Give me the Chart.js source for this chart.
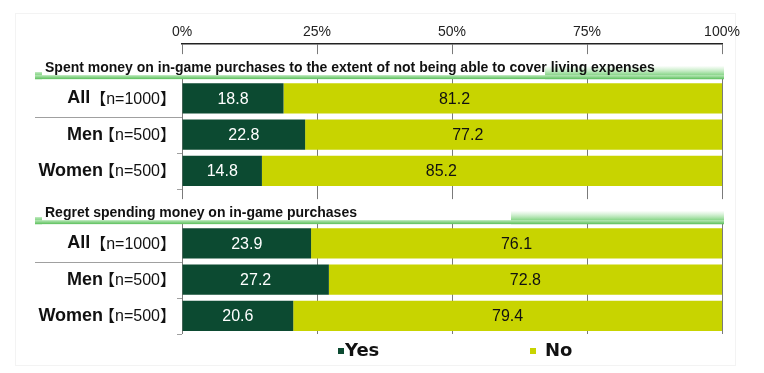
<!DOCTYPE html>
<html>
<head>
<meta charset="utf-8">
<title>In-game purchases</title>
<script src="https://cdn.jsdelivr.net/npm/chart.js@4.4.1/dist/chart.umd.min.js"></script>
<style>
  html, body { margin: 0; padding: 0; background: #fff; }
  canvas { display: block; }
</style>
</head>
<body>
<canvas id="chart" width="764" height="373"></canvas>
<script>
/* global Chart */
(function () {
    'use strict';

    // ---------------------------------------------------------
    // Data
    // ---------------------------------------------------------
    var sectionTitles = [
        'Spent money on in-game purchases to the extent of not being able to cover living expenses',
        'Regret spending money on in-game purchases'
    ];
    var groups      = ['All', 'Men', 'Women'];
    var sampleSizes = ['【n=1000】', '【n=500】', '【n=500】'];
    var yesSpent    = [18.8, 22.8, 14.8];
    var noSpent     = [81.2, 77.2, 85.2];
    var yesRegret   = [23.9, 27.2, 20.6];
    var noRegret    = [76.1, 72.8, 79.4];
    var xTicks      = [0, 25, 50, 75, 100];
    var seriesNames = ['Yes', 'No'];

    // ---------------------------------------------------------
    // Styles
    // ---------------------------------------------------------
    var YES_COLOR  = '#0c4a31';
    var NO_COLOR   = '#c8d400';
    var GRID_COLOR = '#7a7a7a';
    var FONT       = '"Liberation Sans", Arial, sans-serif';
    var CJK_FONT   = '"Liberation Sans", "Noto Sans CJK JP", sans-serif';
    var noLabelPos = [0.39, 0.5];      // where the "No" value sits in its bar, per section
    var glowStart  = [545, 511];       // x where the header glow starts, per section
    var legendX    = [338, 530];

    // rows: header, All, Men, Women, header, All, Men, Women
    var rowKind = [], labels = [], yesData = [], noData = [];
    [[yesSpent, noSpent], [yesRegret, noRegret]].forEach(function (pair, s) {
        rowKind.push({ header: s });
        labels.push(sectionTitles[s]);
        yesData.push(null);
        noData.push(null);
        groups.forEach(function (g, j) {
            rowKind.push({ group: j, section: s });
            labels.push(g);
            yesData.push(pair[0][j]);
            noData.push(pair[1][j]);
        });
    });

    var decor = {
        id: 'decor',
        beforeDraw: function (chart) {
            var ctx = chart.ctx;
            ctx.save();
            ctx.fillStyle = '#fff';
            ctx.fillRect(0, 0, chart.width, chart.height);
            ctx.strokeStyle = '#f3f3f3';
            ctx.lineWidth = 1;
            ctx.strokeRect(15.5, 13.5, 720, 352);
            ctx.restore();
        },
        afterDatasetsDraw: function (chart) {
            var ctx  = chart.ctx;
            var area = chart.chartArea;
            var y    = chart.scales.y;
            ctx.save();

            // section headers
            rowKind.forEach(function (r, i) {
                if (r.header === undefined) return;
                var cy = y.getPixelForValue(i);
                var right = area.right + 2;
                ctx.fillStyle = '#fff';
                ctx.fillRect(33, cy - 8, right - 33, 24);

                var g = ctx.createLinearGradient(0, cy + 4, 0, cy + 17);
                g.addColorStop(0, 'rgba(150,220,150,0.05)');
                g.addColorStop(0.6, 'rgba(110,205,110,0.7)');
                g.addColorStop(1, 'rgba(70,185,70,1)');
                ctx.fillStyle = g;
                ctx.fillRect(glowStart[r.header], cy + 4, right - glowStart[r.header], 13);
                ctx.fillRect(35, cy + 10, 7, 7);

                var l = ctx.createLinearGradient(0, cy + 13, 0, cy + 17);
                l.addColorStop(0, '#b9e8b9');
                l.addColorStop(1, '#5cc05c');
                ctx.fillStyle = l;
                ctx.fillRect(35, cy + 13, right - 35, 4);

                ctx.fillStyle = '#111';
                ctx.font = 'bold 14px ' + FONT;
                ctx.textAlign = 'left';
                ctx.textBaseline = 'middle';
                ctx.fillText(sectionTitles[r.header], 45, cy + 6);
            });

            // values inside the bars
            ctx.font = '16px ' + FONT;
            ctx.textBaseline = 'middle';
            ctx.textAlign = 'center';
            chart.data.datasets.forEach(function (ds, d) {
                var meta = chart.getDatasetMeta(d);
                meta.data.forEach(function (bar, i) {
                    var v = ds.data[i];
                    if (v === null || v === undefined) return;
                    var lo = Math.min(bar.x, bar.base), hi = Math.max(bar.x, bar.base);
                    var frac = d === 0 ? 0.5 : noLabelPos[rowKind[i].section];
                    ctx.fillStyle = d === 0 ? '#fff' : '#111';
                    ctx.fillText(v.toFixed(1), lo + (hi - lo) * frac, bar.y + 1);
                });
            });
            ctx.restore();
        },
        afterDraw: function (chart) {
            var ctx  = chart.ctx;
            var area = chart.chartArea;
            var y    = chart.scales.y;
            var half = (y.getPixelForValue(1) - y.getPixelForValue(0)) / 2;
            ctx.save();

            rowKind.forEach(function (r, i) {
                if (r.group === undefined) return;
                var cy = y.getPixelForValue(i);
                var labelRight = area.left - 6;

                ctx.textBaseline = 'middle';
                ctx.textAlign = 'right';
                ctx.fillStyle = '#111';
                ctx.font = '16px ' + CJK_FONT;
                var w = ctx.measureText(sampleSizes[r.group]).width;
                ctx.fillText(sampleSizes[r.group], labelRight, cy + 1);
                ctx.font = 'bold 18px ' + FONT;
                ctx.fillText(groups[r.group], labelRight - w + (r.group === 0 ? 0 : 4), cy);

                // separators on the left
                var by = Math.round(cy + half) + 0.5;
                ctx.strokeStyle = '#a0a0a0';
                ctx.lineWidth = 1;
                ctx.beginPath();
                if (r.group === 0) {
                    ctx.moveTo(35, by);
                } else {
                    ctx.moveTo(area.left - 5, by);
                }
                ctx.lineTo(area.left, by);
                ctx.stroke();
            });

            // legend
            ctx.textAlign = 'left';
            ctx.textBaseline = 'middle';
            ctx.font = 'bold 18px "DejaVu Sans", ' + FONT;
            chart.data.datasets.forEach(function (ds, d) {
                var x = legendX[d];
                ctx.fillStyle = ds.backgroundColor;
                ctx.fillRect(x, 348, 6, 6);
                ctx.fillStyle = '#111';
                ctx.fillText(ds.label, x + (d === 0 ? 7 : 15), 351);
            });
            ctx.restore();
        }
    };

    new Chart(document.getElementById('chart'), {
        type: 'bar',
        data: {
            labels: labels,
            datasets: [
                {
                    label:           seriesNames[0],
                    data:            yesData,
                    backgroundColor: YES_COLOR,
                    borderWidth:     0,
                    barPercentage:   0.83,
                    categoryPercentage: 1,
                },
                {
                    label:           seriesNames[1],
                    data:            noData,
                    backgroundColor: NO_COLOR,
                    borderWidth:     0,
                    barPercentage:   0.83,
                    categoryPercentage: 1,
                },
            ],
        },
        options: {
            indexAxis:  'y',
            responsive: false,
            animation:  false,
            devicePixelRatio: 1,
            layout: { padding: { left: 182, right: 42, top: 0, bottom: 39 } },
            plugins: {
                legend:  { display: false },
                tooltip: { enabled: false },
            },
            scales: {
                x: {
                    position: 'top',
                    stacked:  true,
                    min: 0,
                    max: 100,
                    afterBuildTicks: function (scale) {
                        scale.ticks = xTicks.map(function (v) { return { value: v }; });
                    },
                    afterFit: function (scale) { scale.height = 44; },
                    ticks: {
                        padding: 3,
                        color:   '#222',
                        font:    { family: FONT, size: 14 },
                        callback: function (v) { return v + '%'; },
                    },
                    grid:   { color: GRID_COLOR, lineWidth: 1, drawTicks: false },
                    border: { color: '#222', width: 1.5 },
                },
                y: {
                    display: false,
                    stacked: true,
                },
            },
        },
        plugins: [decor],
    });
}());
</script>
</body>
</html>
